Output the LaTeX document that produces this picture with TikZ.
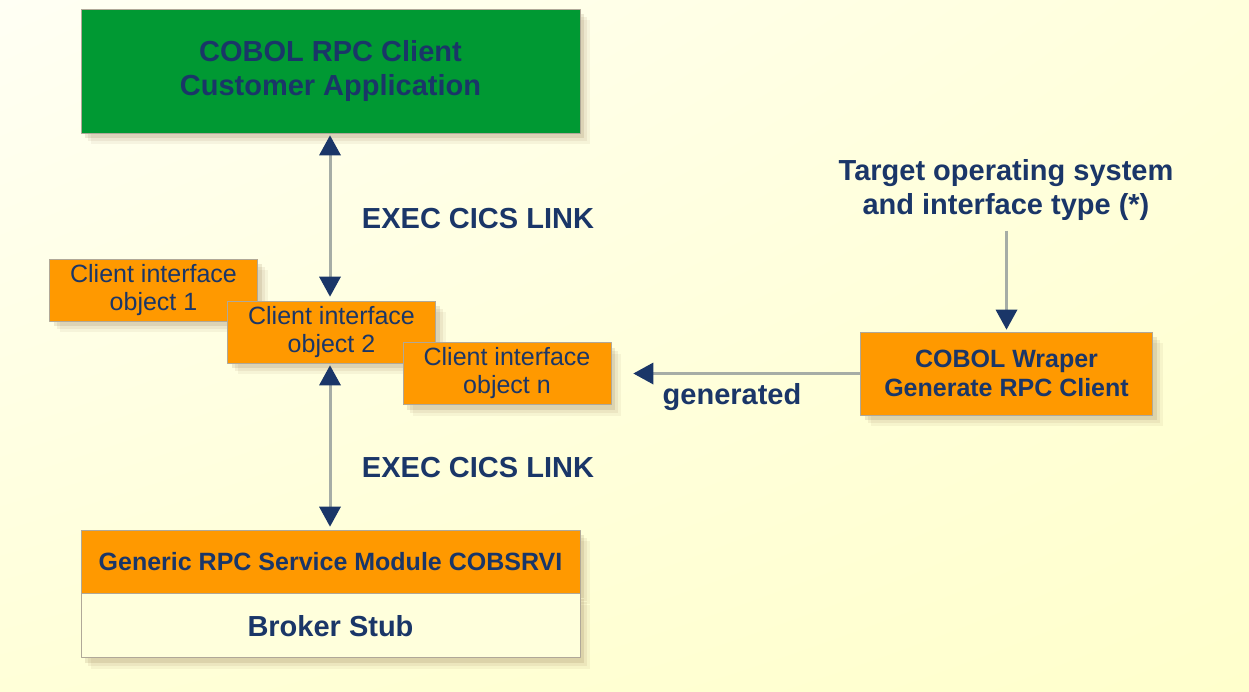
\documentclass[tikz,border=0pt]{standalone}
\usepackage{fontspec}
\setmainfont{Liberation Sans}
\usetikzlibrary{arrows.meta,shadows,shadings}
\definecolor{navy}{HTML}{1A3668}
\definecolor{appgreen}{HTML}{009933}
\definecolor{wraporange}{HTML}{FF9900}
\definecolor{stubcream}{HTML}{FFFFDC}
\definecolor{bglight}{HTML}{FFFFF4}
\definecolor{bgyellow}{HTML}{FFFFCC}
\definecolor{linkgray}{HTML}{A6ADA6}
\definecolor{edgegray}{HTML}{B0A898}
\begin{document}
\begin{tikzpicture}[x=1pt, y=-1pt, line join=round,
    bigfont/.style={font=\bfseries\fontsize{29}{34}\selectfont},
    midfont/.style={font=\bfseries\fontsize{25}{29}\selectfont},
    objfont/.style={font=\fontsize{25}{28}\selectfont},
    boxshadow/.style={
        drop shadow={shadow xshift=4pt, shadow yshift=-5pt, opacity=.12, fill=brown!60!black},
        drop shadow={shadow xshift=7pt, shadow yshift=-8pt, opacity=.08, fill=brown!60!black},
        drop shadow={shadow xshift=10pt, shadow yshift=-11pt, opacity=.06, fill=brown!60!black}},
    box/.style={draw=edgegray, line width=.8pt, inner sep=0pt, align=center, text=navy, boxshadow},
    objbox/.style={box, objfont, fill=wraporange, minimum width=208pt, minimum height=62pt},
    label/.style={text=navy, align=center, inner sep=0pt},
    tip/.tip={Triangle[width=22pt,length=20pt,line width=0pt,color=navy]},
    link/.style={draw=linkgray, line width=3pt, tip-tip},
    feed/.style={draw=linkgray, line width=3pt, -tip}]
    % background
    \shade[upper left=bglight, upper right=bgyellow!60!bglight, lower left=bgyellow!70!bglight, lower right=bgyellow]
        (0,0) rectangle (1249,691);
    \useasboundingbox (0,0) rectangle (1249,691);
    % boxes
    \node[box, bigfont, fill=appgreen, minimum width=499pt, minimum height=124pt] (app) at (330.5,71)
        {COBOL RPC Client\\Customer Application};
    \node[objbox] (obj1) at (153.5,290) {Client interface\\object 1};
    \node[objbox] (obj2) at (331.5,332) {Client interface\\object 2};
    \node[objbox] (objn) at (507,373.5) {Client interface\\object n};
    \node[box, midfont, fill=wraporange, minimum width=292pt, minimum height=83pt] (wrap) at (1006.5,373.5)
        {COBOL Wraper\\Generate RPC Client};
    \node[box, midfont, fill=wraporange, minimum width=499pt, minimum height=63pt] (svc) at (330.5,561.5)
        {Generic RPC Service Module COBSRVI};
    \node[box, bigfont, fill=stubcream, minimum width=499pt, minimum height=64pt, anchor=north] (stub) at (svc.south)
        {Broker Stub};
    % labels
    \node[label, bigfont] (link1) at (478,219) {EXEC CICS LINK};
    \node[label, bigfont] (link2) at (478,468) {EXEC CICS LINK};
    \node[label, bigfont] (gen) at (732,397) {generated};
    \node[label, bigfont] (target) at (1006,190) {Target operating system\\and interface type (*)};
    % connectors
    \draw[link, shorten <=2pt, shorten >=4pt] (app.south -| 330,0) -- (obj2.north -| 330,0);
    \draw[link, shorten <=2pt, shorten >=3pt] (obj2.south -| 330,0) -- (svc.north -| 330,0);
    \draw[feed, shorten >=22pt] (wrap.west) -- (objn.east);
    \draw[feed, shorten <=10pt, shorten >=2pt] (target.south -| wrap.north) -- (wrap.north);
\end{tikzpicture}
\end{document}
